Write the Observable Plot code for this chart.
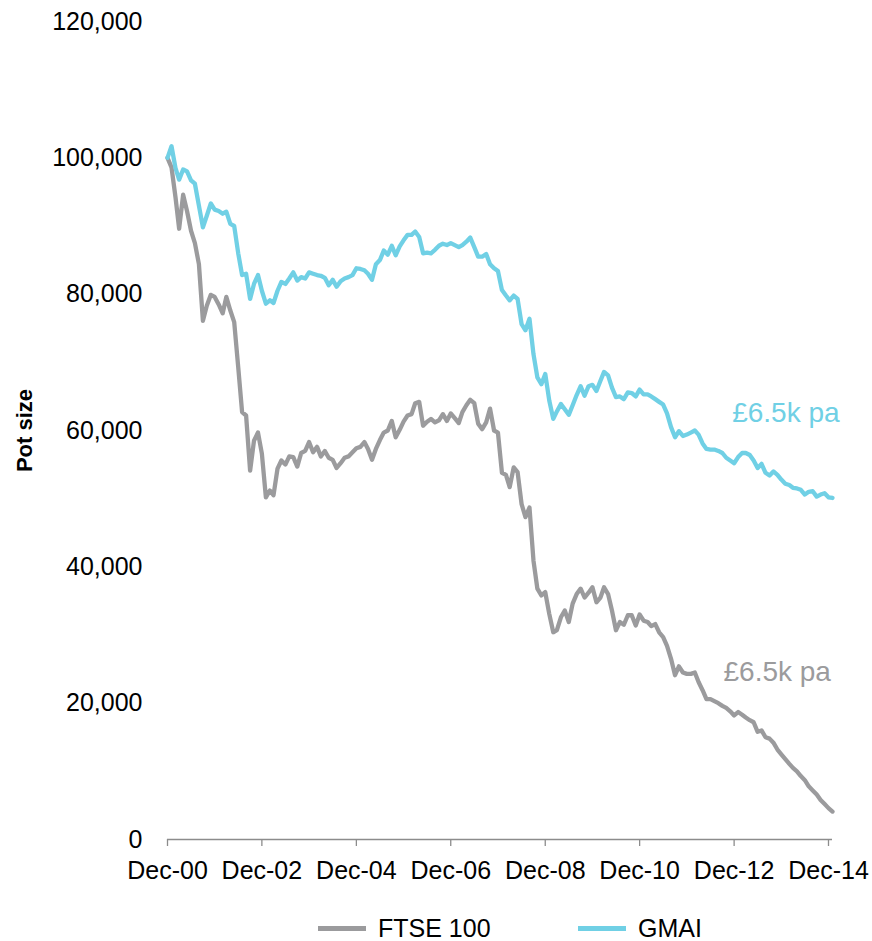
<!DOCTYPE html>
<html>
<head>
<meta charset="utf-8">
<script src="https://cdn.jsdelivr.net/npm/d3@7"></script>
<script src="https://cdn.jsdelivr.net/npm/@observablehq/plot@0.6"></script>
<style>
  html, body { margin: 0; padding: 0; background: #fff; }
  body { width: 872px; height: 941px; overflow: hidden; font-family: "Liberation Sans", Arial, sans-serif; }
  #legend { position: relative; height: 30px; margin-top: 24px; font-size: 25px; color: #000; }
  .item { position: absolute; top: 0; height: 30px; display: flex; align-items: center; white-space: nowrap; }
  .sw { width: 48px; height: 5px; margin-right: 12px; }
</style>
</head>
<body>
<div id="chart"></div>
<div id="legend"></div>
<script>
// Monthly pot size (£ thousands), Dec-00 .. Jan-15
const ftse = [
  100, 98.6, 94.2, 89.6, 94.6, 92.2, 89.3, 87.5, 84.4, 76.1,
  78.3, 79.9, 79.6, 78.5, 77.2, 79.6, 77.6, 75.9, 69.3, 62.7,
  62.2, 54.1, 58.5, 59.7, 56.6, 50.2, 51.2, 50.5, 54.4, 55.6,
  55.0, 56.2, 56.1, 54.7, 56.7, 57.0, 58.3, 56.8, 57.6, 56.2,
  57.0, 56.0, 55.7, 54.5, 55.2, 56.0, 56.2, 56.8, 57.4, 57.6,
  58.3, 57.3, 55.7, 57.3, 58.6, 59.7, 60.0, 61.4, 59.0, 60.1,
  61.3, 62.2, 62.4, 64.0, 64.2, 60.7, 61.3, 61.7, 61.2, 61.5,
  62.4, 61.4, 62.5, 61.8, 61.1, 62.7, 63.7, 64.5, 64.0, 61.0,
  60.2, 61.2, 63.2, 60.0, 59.7, 53.8, 53.5, 51.7, 54.6, 53.9,
  49.2, 47.3, 48.7, 40.9, 36.8, 35.8, 36.3, 33.1, 30.4, 30.7,
  32.6, 33.6, 31.9, 34.6, 36.0, 36.8, 35.5, 36.2, 37.0, 34.8,
  35.5, 37.0, 36.0, 33.6, 30.7, 31.9, 31.5, 32.9, 32.9, 31.4,
  33.0, 32.1, 31.9, 31.3, 31.6, 30.4, 29.7, 28.4, 26.5, 24.1,
  25.4, 24.5, 24.3, 24.3, 24.5, 23.1, 21.9, 20.6, 20.6, 20.3,
  20.0, 19.6, 19.3, 18.8, 18.2, 18.7, 18.3, 17.9, 17.5, 17.2,
  15.8, 16.0, 15.0, 14.8, 14.2, 13.2, 12.5, 11.8, 11.1, 10.5,
  10.0, 9.3, 8.7, 7.8, 7.2, 6.6, 5.8, 5.2, 4.6, 4.1
];
const gmai = [
  100, 101.7, 98.5, 96.8, 98.3, 98.0, 96.7, 96.2, 93.0, 89.8,
  91.5, 93.3, 92.4, 92.2, 91.8, 92.1, 90.3, 90.0, 86.0, 82.8,
  83.0, 79.3, 81.5, 82.8, 80.5, 78.6, 79.1, 78.7, 80.5, 81.8,
  81.5, 82.3, 83.2, 82.0, 82.5, 82.3, 83.2, 83.0, 82.8, 82.7,
  82.4, 81.3, 82.1, 81.1, 81.9, 82.3, 82.5, 82.8, 83.8, 83.7,
  83.5, 83.0, 82.1, 84.4, 85.0, 86.4, 85.8, 87.1, 85.7, 87.0,
  87.9, 88.7, 88.7, 89.2, 88.4, 86.0, 86.1, 86.0, 86.5, 87.1,
  87.4, 87.2, 87.5, 87.2, 86.9, 87.2, 87.7, 88.3, 86.9, 85.5,
  85.5, 85.9, 84.4, 83.8, 83.4, 80.6, 79.8, 79.1, 79.8, 79.3,
  75.6, 74.7, 76.4, 71.2, 67.8, 66.8, 68.3, 64.4, 61.7, 62.8,
  63.9, 63.1, 62.3, 63.7, 65.2, 66.5, 65.1, 66.5, 66.7, 65.8,
  67.3, 68.6, 68.1, 66.3, 64.9, 65.0, 64.6, 65.6, 65.5, 65.0,
  66.0, 65.3, 65.3, 65.0, 64.6, 64.2, 63.8, 62.5, 60.5, 59.0,
  59.9, 59.2, 59.4, 59.7, 60.0, 59.4, 58.1, 57.3, 57.2, 57.2,
  57.0, 56.7, 56.0, 55.6, 55.2, 56.1, 56.7, 56.7, 56.4, 55.6,
  54.5, 55.1, 53.8, 53.4, 54.0, 53.5, 52.8, 52.2, 52.0, 51.6,
  51.5, 51.3, 50.6, 51.0, 51.1, 50.3, 50.6, 50.8, 50.2, 50.1
];
const seriesNames = ["FTSE 100", "GMAI"];
const seriesColors = ["#9b9b9d", "#70d0e5"];
const yTicks = [0, 20000, 40000, 60000, 80000, 100000, 120000];
const xTickYears = [2000, 2002, 2004, 2006, 2008, 2010, 2012, 2014];
const xTickLabels = ["Dec-00", "Dec-02", "Dec-04", "Dec-06", "Dec-08", "Dec-10", "Dec-12", "Dec-14"];
const annotationText = ["£6.5k pa", "£6.5k pa"];
const annotationDates = [[2012, 8, 10], [2012, 10, 16]];
const annotationValues = [23300, 61200];

const startYear = 2000, startMonth = 11;
const rows = [];
[ftse, gmai].forEach((arr, s) => {
  arr.forEach((v, i) => rows.push({
    date: new Date(Date.UTC(startYear, startMonth + i, 1)),
    value: v * 1000,
    series: seriesNames[s]
  }));
});
const xTicks = xTickYears.map(y => new Date(Date.UTC(y, 11, 1)));
const tickLabelOf = new Map(xTicks.map((d, i) => [+d, xTickLabels[i]]));
const lastDate = new Date(Date.UTC(startYear, startMonth + ftse.length - 1, 1));
const annotations = annotationText.map((t, i) => ({
  text: t,
  date: new Date(Date.UTC(...annotationDates[i])),
  value: annotationValues[i],
  series: seriesNames[i]
}));

const chart = Plot.plot({
  width: 872,
  height: 889,
  marginLeft: 167,
  marginRight: 40,
  marginTop: 21,
  marginBottom: 50,
  style: {fontFamily: "'Liberation Sans', Arial, sans-serif", fontSize: "25px", color: "#000", background: "#fff"},
  x: {type: "utc", domain: [rows[0].date, lastDate]},
  y: {domain: [0, 120000]},
  color: {domain: seriesNames, range: seriesColors},
  marks: [
    Plot.axisY({ticks: yTicks, tickSize: 0, tickPadding: 25, tickFormat: d3.format(","), label: null, fontSize: 25, fill: "#000"}),
    Plot.axisX({ticks: xTicks, tickSize: 7, tickPadding: 15, tickFormat: d => tickLabelOf.get(+d), label: null, fontSize: 25, stroke: "#8c8c8c", strokeWidth: 1.3, fill: "#000"}),
    Plot.ruleY([0], {stroke: "#8c8c8c", strokeWidth: 1.3}),
    Plot.text(["Pot size"], {frameAnchor: "left", textAnchor: "middle", lineAnchor: "middle", rotate: -90, dx: -143, dy: 0, fontWeight: "bold", fontSize: 22, fill: "#000"}),
    Plot.line(rows.filter(d => d.series === seriesNames[0]), {x: "date", y: "value", stroke: "series", strokeWidth: 4.3, strokeLinejoin: "round", strokeLinecap: "round"}),
    Plot.line(rows.filter(d => d.series === seriesNames[1]), {x: "date", y: "value", stroke: "series", strokeWidth: 4.3, strokeLinejoin: "round", strokeLinecap: "round"}),
    Plot.text(annotations, {x: "date", y: "value", text: "text", fill: "series", textAnchor: "start", lineAnchor: "bottom", fontSize: 28})
  ]
});
document.getElementById("chart").appendChild(chart);

const legendLeft = [318, 578];
const legend = document.getElementById("legend");
seriesNames.forEach((name, i) => {
  const item = document.createElement("div");
  item.className = "item";
  item.style.left = legendLeft[i] + "px";
  const sw = document.createElement("div");
  sw.className = "sw";
  sw.style.background = seriesColors[i];
  const label = document.createElement("span");
  label.textContent = name;
  item.appendChild(sw);
  item.appendChild(label);
  legend.appendChild(item);
});
</script>
</body>
</html>
